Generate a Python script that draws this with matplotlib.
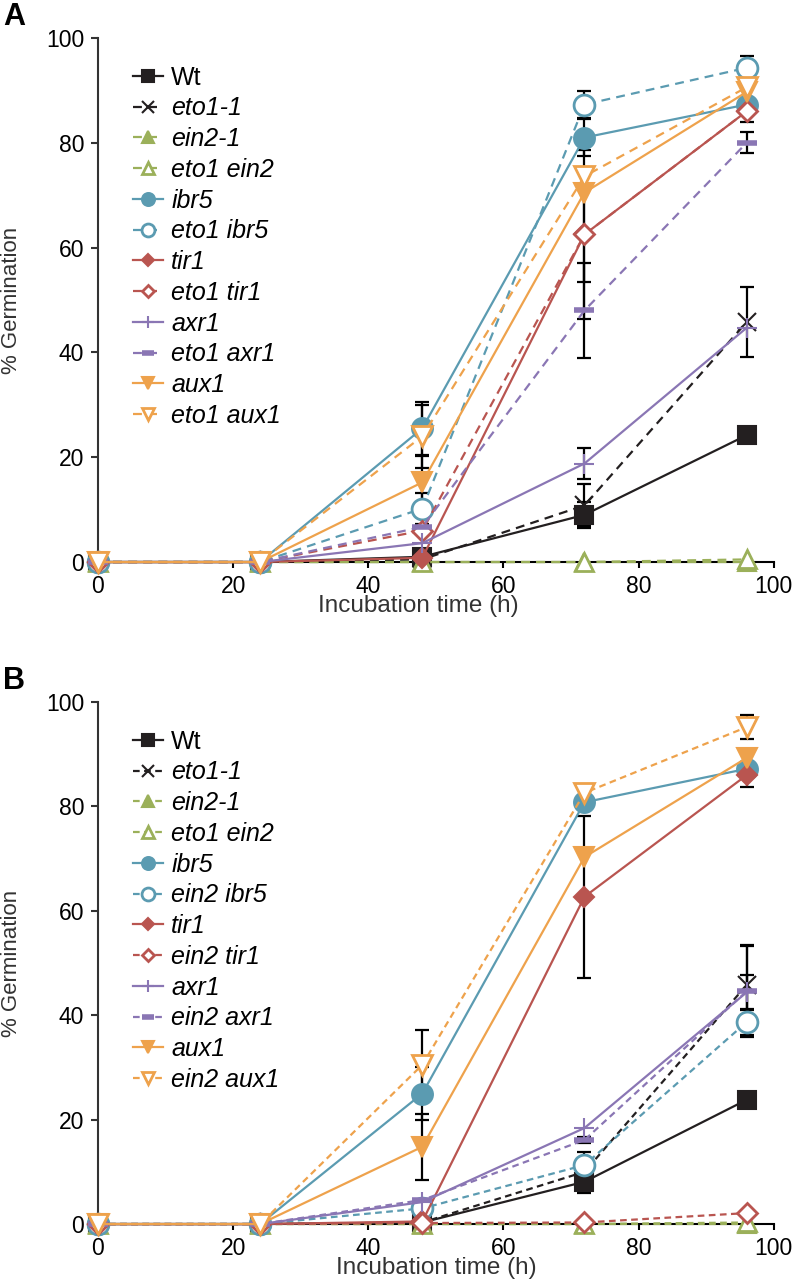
import numpy as np
import matplotlib
matplotlib.use("Agg")
import matplotlib.pyplot as plt

plt.rcParams['font.family'] = ['Liberation Sans', 'DejaVu Sans']

nan = np.nan
hours = [0, 24, 48, 72, 96]

# ---- panel A values (% germination) ----
labels_a = ['Wt', 'eto1-1', 'ein2-1', 'eto1 ein2', 'ibr5', 'eto1 ibr5',
            'tir1', 'eto1 tir1', 'axr1', 'eto1 axr1', 'aux1', 'eto1 aux1']
wt_a = [0, 0, 1, 9, 24.2]
eto1_a = [0, 0, 0.5, 10.8, 45.8]
ein2_a = [0, 0, 0, 0, 0]
eto1_ein2_a = [0, 0, 0, 0, 0.5]
ibr5_a = [0, 0, 25.5, 81, 87.3]
eto1_ibr5_a = [0, 0, 10.2, 87.3, 94.3]
tir1_a = [0, 0, 0.8, 62.5, 86]
eto1_tir1_a = [0, 0, 6, 62.5, 86]
axr1_a = [0, 0, 3.6, 18.8, 44.7]
eto1_axr1_a = [0, 0, 6.7, 48, 80]
aux1_a = [0, 0, 15.2, 70.5, 89.7]
eto1_aux1_a = [0, 0, 24, 73.6, 90.6]

err_wt_a = [nan, nan, nan, 2.5, nan]
err_eto1_a = [nan, nan, nan, 4, 6.7]
err_ibr5_a = [nan, nan, 5, 3.6, nan]
err_eto1_ibr5_a = [nan, nan, 3, 2.6, 2.2]
err_tir1_a = [nan, nan, nan, 9, 2]
err_eto1_tir1_a = [nan, nan, nan, 16.2, nan]
err_axr1_a = [nan, nan, nan, 3, nan]
err_eto1_axr1_a = [nan, nan, nan, 9, 2]
err_aux1_a = [nan, nan, 5, nan, nan]
err_eto1_aux1_a = [nan, nan, 6, nan, nan]

# ---- panel B values ----
labels_b = ['Wt', 'eto1-1', 'ein2-1', 'eto1 ein2', 'ibr5', 'ein2 ibr5',
            'tir1', 'ein2 tir1', 'axr1', 'ein2 axr1', 'aux1', 'ein2 aux1']
wt_b = [0, 0, 0.3, 8.1, 23.8]
eto1_b = [0, 0, 0.3, 10, 45.8]
ein2_b = [0, 0, 0, 0, 0]
eto1_ein2_b = [0, 0, 0, 0, 0.3]
ibr5_b = [0, 0, 25, 80.8, 87.2]
ein2_ibr5_b = [0, 0, 3, 11.3, 38.7]
tir1_b = [0, 0, 0.5, 62.7, 86]
ein2_tir1_b = [0, 0, 0.2, 0.3, 2.1]
axr1_b = [0, 0, 4.2, 18.4, 44.4]
ein2_axr1_b = [0, 0, 4.6, 16.1, 44.6]
aux1_b = [0, 0, 14.8, 70.3, 89.3]
ein2_aux1_b = [0, 0, 30.5, 82.6, 95.2]

err_wt_b = [nan, nan, nan, 2.2, nan]
err_eto1_b = [nan, nan, nan, nan, 7.6]
err_ibr5_b = [nan, nan, 5, nan, nan]
err_ein2_ibr5_b = [nan, nan, nan, 2.5, 2.5]
err_tir1_b = [nan, nan, nan, 15.5, 2.3]
err_axr1_b = [nan, nan, nan, nan, 3.4]
err_ein2_axr1_b = [nan, nan, nan, 0.6, 8.7]
err_aux1_b = [nan, nan, 6.3, nan, nan]
err_ein2_aux1_b = [nan, nan, 6.7, nan, 2.3]

# style per series position (same in both panels)
black = '#231f20'
green = '#9bb05a'
blue = '#5b9bb1'
red = '#b95550'
purple = '#8a76b4'
orange = '#eea24c'
colors = [black, black, green, green, blue, blue, red, red, purple, purple, orange, orange]
markers = ['s', 'x', '^', '^', 'o', 'o', 'D', 'D', '+', '_', 'v', 'v']
msizes = [13, 13, 13, 13, 15, 15, 10, 10, 14, 15, 14, 14]
open_marker = [False, False, False, True, False, True, False, True, False, False, False, True]
dashed = [False, True, True, True, False, True, False, True, False, True, False, True]


def draw_panel(ax, labels, values, errors, dash):
    for i, y in enumerate(values):
        err = errors[i]
        if err is not None:
            ax.errorbar(hours, y, yerr=err, fmt='none', ecolor='black',
                        elinewidth=1.6, capsize=5, capthick=1.6, zorder=2,
                        clip_on=False)
    lines = []
    for i, y in enumerate(values):
        c = colors[i]
        mfc = 'white' if open_marker[i] else c
        mew = 2 if open_marker[i] else 1.5
        if markers[i] == '_':
            mew = 4
        ls = (0, dash) if dashed[i] else '-'
        ln, = ax.plot(hours, y, color=c, linestyle=ls, linewidth=1.6,
                      marker=markers[i], markersize=msizes[i],
                      markerfacecolor=mfc, markeredgecolor=c,
                      markeredgewidth=mew, zorder=3, clip_on=False)
        lines.append(ln)

    ax.set_xlim(0, 100)
    ax.set_ylim(0, 100)
    ax.set_xticks([0, 20, 40, 60, 80, 100])
    ax.set_yticks([0, 20, 40, 60, 80, 100])
    ax.spines['top'].set_visible(False)
    ax.spines['right'].set_visible(False)
    ax.spines['left'].set_color('#333333')
    ax.spines['left'].set_linewidth(1.5)
    ax.spines['bottom'].set_color('black')
    ax.spines['bottom'].set_linewidth(1.5)
    ax.tick_params(axis='y', length=5, width=1.5, labelsize=16.5, pad=5, color='#333333')
    ax.tick_params(axis='x', length=4, width=1.5, labelsize=16.5, pad=5)

    leg = ax.legend(lines, labels, loc='upper left', bbox_to_anchor=(0.052, 0.947),
                    frameon=False, fontsize=18, handlelength=1.2, handletextpad=0.33,
                    labelspacing=0.27, borderpad=0, borderaxespad=0, markerscale=0.62)
    for k, t in enumerate(leg.get_texts()):
        if k > 0:
            t.set_fontstyle('italic')


fig = plt.figure(figsize=(7.96, 12.82), dpi=100)
ax_a = fig.add_axes([0.123, 0.5616, 0.849, 0.4088])
ax_b = fig.add_axes([0.123, 0.0452, 0.849, 0.4072])

vals_a = [wt_a, eto1_a, ein2_a, eto1_ein2_a, ibr5_a, eto1_ibr5_a,
          tir1_a, eto1_tir1_a, axr1_a, eto1_axr1_a, aux1_a, eto1_aux1_a]
errs_a = [err_wt_a, err_eto1_a, None, None, err_ibr5_a, err_eto1_ibr5_a,
          err_tir1_a, err_eto1_tir1_a, err_axr1_a, err_eto1_axr1_a, err_aux1_a, err_eto1_aux1_a]
vals_b = [wt_b, eto1_b, ein2_b, eto1_ein2_b, ibr5_b, ein2_ibr5_b,
          tir1_b, ein2_tir1_b, axr1_b, ein2_axr1_b, aux1_b, ein2_aux1_b]
errs_b = [err_wt_b, err_eto1_b, None, None, err_ibr5_b, err_ein2_ibr5_b,
          err_tir1_b, None, err_axr1_b, err_ein2_axr1_b, err_aux1_b, err_ein2_aux1_b]

draw_panel(ax_a, labels_a, vals_a, errs_a, (4, 2.8))
draw_panel(ax_b, labels_b, vals_b, errs_b, (3, 2))

# axis labels
fig.text(12 / 796, 1 - 300 / 1282, '% Germination', rotation=90, ha='center', va='center',
         fontsize=16, color='#333333')
fig.text(12 / 796, 1 - 963 / 1282, '% Germination', rotation=90, ha='center', va='center',
         fontsize=16, color='#333333')
fig.text(418 / 796, 1 - 606 / 1282, 'Incubation time (h)', ha='center', va='center',
         fontsize=17.5, color='#333333')
fig.text(436 / 796, 1 - 1268 / 1282, 'Incubation time (h)', ha='center', va='center',
         fontsize=17.5, color='#333333')

# panel letters
fig.text(3 / 796, 1 - 17 / 1282, 'A', fontsize=22, fontweight='bold', va='center')
fig.text(3 / 796, 1 - 681 / 1282, 'B', fontsize=22, fontweight='bold', va='center')

fig.savefig('out.png', dpi=100)
